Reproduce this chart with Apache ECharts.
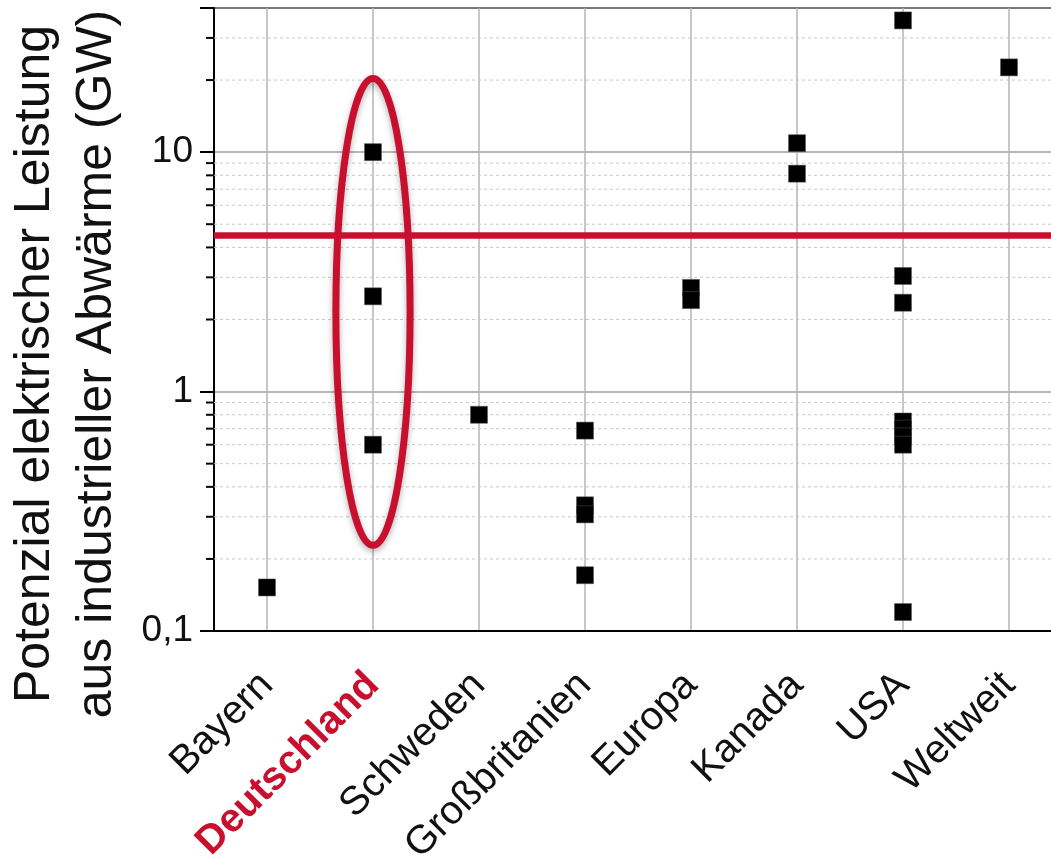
<!DOCTYPE html>
<html>
<head>
    <meta http-equiv="content-type" content="text/html;charset=utf-8">
    <script src="https://cdn.jsdelivr.net/npm/echarts@6/dist/echarts.min.js"></script>
    <style>
        html, body { margin: 0; padding: 0; background: #fff; }
        #chart { width: 1051px; height: 867px; }
    </style>
</head>
<body>
<div id="chart"></div>

<script type="text/javascript">
    // Kategorien (x-Achse)
    var categories = ['Bayern', 'Deutschland', 'Schweden', 'Großbritanien', 'Europa', 'Kanada', 'USA', 'Weltweit'];
    // Messpunkte [Kategorie, GW]
    var points = [
        ['Bayern', 0.152],
        ['Deutschland', 10], ['Deutschland', 2.5], ['Deutschland', 0.6],
        ['Schweden', 0.8],
        ['Großbritanien', 0.687], ['Großbritanien', 0.335], ['Großbritanien', 0.307], ['Großbritanien', 0.171],
        ['Europa', 2.71], ['Europa', 2.41],
        ['Kanada', 10.9], ['Kanada', 8.13],
        ['USA', 35.5], ['USA', 3.04], ['USA', 2.35], ['USA', 0.75], ['USA', 0.7], ['USA', 0.65], ['USA', 0.6], ['USA', 0.12],
        ['Weltweit', 22.6]
    ];
    // rote Grenzlinie
    var threshold = 4.5;
    // Ellipse um Deutschland [Kategorie, unten, oben]
    var highlight = [['Deutschland', 0.228, 20.3]];
    // Nebenteilstriche der log-Achse
    var minorTicks = [0.2, 0.3, 0.4, 0.5, 0.6, 0.7, 0.8, 0.9, 2, 3, 4, 5, 6, 7, 8, 9, 20, 30];
    var yMin = 0.1, yMax = 40;

    var red = '#c8102e';
    var font = 'Liberation Sans, Arial, sans-serif';

    var myChart = echarts.init(document.getElementById('chart'));

    var option = {
        backgroundColor: '#fff',
        animation: false,
        textStyle: { fontFamily: font },
        grid: {
            left: 214, top: 8, right: -11, bottom: 236,
            outerBoundsMode: 'none',
            containLabel: false,
            show: true, borderColor: '#000', borderWidth: 2
        },
        graphic: [{
            type: 'text',
            x: 66, y: 364,
            rotation: Math.PI / 2,
            style: {
                text: 'Potenzial elektrischer Leistung\naus industrieller Abwärme (GW)',
                font: '50px Liberation Sans, Arial, sans-serif',
                fill: '#111',
                align: 'center',
                verticalAlign: 'middle',
                lineHeight: 62
            }
        }],
        xAxis: [{
            type: 'category',
            data: categories,
            boundaryGap: true,
            axisLine: { lineStyle: { color: '#000', width: 2 } },
            axisTick: { alignWithLabel: true, length: 14, lineStyle: { color: '#000', width: 2 } },
            splitLine: { show: true, alignWithLabel: true, lineStyle: { color: '#b4b4b4', width: 1.5 } },
            axisLabel: {
                interval: 0,
                rotate: 45,
                margin: 48,
                fontSize: 40,
                color: '#111',
                hideOverlap: false,
                formatter: function (v) {
                    return v === 'Deutschland' ? '{d|' + v + '}' : v;
                },
                rich: {
                    d: { fontSize: 40, fontWeight: 'bold', color: red, fontFamily: font }
                }
            }
        }, {
            type: 'category',
            data: categories,
            boundaryGap: true,
            position: 'bottom',
            axisLine: { show: false },
            axisTick: { length: 8, lineStyle: { color: '#000', width: 2 } },
            axisLabel: { show: false },
            splitLine: { show: false }
        }],
        yAxis: {
            type: 'log',
            logBase: 10,
            min: yMin,
            max: yMax,
            axisLine: { show: true, lineStyle: { color: '#000', width: 2 } },
            axisTick: { show: true, length: 14, lineStyle: { color: '#000', width: 2 } },
            splitLine: { show: true, lineStyle: { color: '#a0a0a0', width: 1.5 } },
            axisLabel: {
                margin: 21,
                fontSize: 37,
                color: '#111',
                formatter: function (v) {
                    if (Math.abs(v - 0.1) < 1e-6) return '0,1';
                    if (Math.abs(v - 1) < 1e-6) return '1';
                    if (Math.abs(v - 10) < 1e-6) return '10';
                    return '';
                }
            }
        },
        series: [{
            // Nebengitter + Nebenteilstriche
            type: 'custom',
            silent: true,
            z: 1,
            data: minorTicks.map(function (v) { return [0, v]; }),
            renderItem: function (params, api) {
                var cs = params.coordSys;
                var y = api.coord([0, api.value(1)])[1];
                return {
                    type: 'group',
                    children: [{
                        type: 'line',
                        shape: { x1: cs.x, y1: y, x2: cs.x + cs.width, y2: y },
                        style: { stroke: '#c8c8c8', lineWidth: 1, lineDash: [3, 3] }
                    }, {
                        type: 'line',
                        shape: { x1: cs.x - 8, y1: y, x2: cs.x, y2: y },
                        style: { stroke: '#000', lineWidth: 2 }
                    }]
                };
            }
        }, {
            type: 'scatter',
            z: 5,
            symbol: 'rect',
            symbolSize: 17,
            itemStyle: { color: '#000', opacity: 1, borderColor: '#555', borderWidth: 0.5 },
            data: points,
            markLine: {
                silent: true,
                symbol: ['none', 'none'],
                label: { show: false },
                lineStyle: { color: red, width: 6.5, type: 'solid', opacity: 1 },
                data: [{ yAxis: threshold }]
            }
        }, {
            // Ellipse um Deutschland
            type: 'custom',
            silent: true,
            z: 4,
            data: highlight,
            encode: { x: 0, y: [1, 2] },
            renderItem: function (params, api) {
                var idx = api.value(0);
                var bottom = api.coord([idx, api.value(1)]);
                var top = api.coord([idx, api.value(2)]);
                var band = api.size([1, 0])[0];
                return {
                    type: 'ellipse',
                    shape: {
                        cx: top[0],
                        cy: (top[1] + bottom[1]) / 2,
                        rx: band * 0.35,
                        ry: (bottom[1] - top[1]) / 2
                    },
                    style: {
                        fill: 'none',
                        stroke: red,
                        lineWidth: 7,
                        shadowBlur: 6,
                        shadowOffsetY: 3,
                        shadowColor: 'rgba(0,0,0,0.3)'
                    }
                };
            }
        }]
    };

    myChart.setOption(option);
</script>

</body>
</html>
